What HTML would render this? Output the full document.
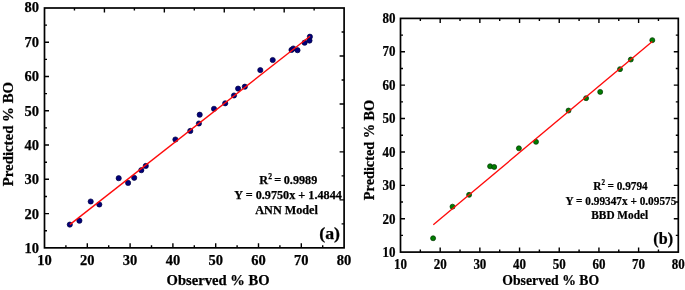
<!DOCTYPE html>
<html><head><meta charset="utf-8"><title>Predicted vs Observed % BO</title>
<style>
html,body{margin:0;padding:0;background:#fff;}
body{width:685px;height:290px;overflow:hidden;}
svg{display:block;will-change:transform;font-family:"Liberation Serif",serif;font-weight:bold;fill:#000;}
svg text{stroke:#000;stroke-width:0.25;}
</style></head><body>
<svg width="685" height="290" viewBox="0 0 685 290">
<rect width="685" height="290" fill="#fff"/>
<g style="mix-blend-mode:multiply">
<rect x="44.5" y="8.0" width="299.6" height="239.85" fill="none" stroke="#000" stroke-width="1.7"/>
<path d="M65.90 247.85v-2.5 M87.30 247.85v-4.5 M108.70 247.85v-2.5 M130.10 247.85v-4.5 M151.50 247.85v-2.5 M172.90 247.85v-4.5 M194.30 247.85v-2.5 M215.70 247.85v-4.5 M237.10 247.85v-2.5 M258.50 247.85v-4.5 M279.90 247.85v-2.5 M301.30 247.85v-4.5 M322.70 247.85v-2.5 M44.5 230.72h2.5 M44.5 213.59h4.5 M44.5 196.45h2.5 M44.5 179.32h4.5 M44.5 162.19h2.5 M44.5 145.06h4.5 M44.5 127.92h2.5 M44.5 110.79h4.5 M44.5 93.66h2.5 M44.5 76.53h4.5 M44.5 59.40h2.5 M44.5 42.26h4.5 M44.5 25.13h2.5 M74.46 8.0v2.5 M104.42 8.0v4.5 M134.38 8.0v2.5 M164.34 8.0v4.5 M194.30 8.0v2.5 M224.26 8.0v4.5 M254.22 8.0v2.5 M284.18 8.0v4.5 M314.14 8.0v2.5 M344.1 223.87h-2.5 M344.1 199.88h-4.5 M344.1 175.89h-2.5 M344.1 151.91h-4.5 M344.1 127.92h-2.5 M344.1 103.94h-4.5 M344.1 79.95h-2.5 M344.1 55.97h-4.5 M344.1 31.98h-2.5" stroke="#000" stroke-width="1.4" fill="none"/>
<text x="44.50" y="265.35" text-anchor="middle" font-size="14.5">10</text>
<text x="39.10" y="253.20" text-anchor="end" font-size="14.5">10</text>
<text x="87.30" y="265.35" text-anchor="middle" font-size="14.5">20</text>
<text x="39.10" y="218.81" text-anchor="end" font-size="14.5">20</text>
<text x="130.10" y="265.35" text-anchor="middle" font-size="14.5">30</text>
<text x="39.10" y="184.41" text-anchor="end" font-size="14.5">30</text>
<text x="172.90" y="265.35" text-anchor="middle" font-size="14.5">40</text>
<text x="39.10" y="150.02" text-anchor="end" font-size="14.5">40</text>
<text x="215.70" y="265.35" text-anchor="middle" font-size="14.5">50</text>
<text x="39.10" y="115.63" text-anchor="end" font-size="14.5">50</text>
<text x="258.50" y="265.35" text-anchor="middle" font-size="14.5">60</text>
<text x="39.10" y="81.24" text-anchor="end" font-size="14.5">60</text>
<text x="301.30" y="265.35" text-anchor="middle" font-size="14.5">70</text>
<text x="39.10" y="46.84" text-anchor="end" font-size="14.5">70</text>
<text x="344.10" y="265.35" text-anchor="middle" font-size="14.5">80</text>
<text x="39.10" y="12.45" text-anchor="end" font-size="14.5">80</text>
<circle cx="69.8" cy="224.6" r="2.6" fill="#00007a" stroke="#000040" stroke-width="0.7"/>
<circle cx="79.4" cy="220.7" r="2.6" fill="#00007a" stroke="#000040" stroke-width="0.7"/>
<circle cx="90.7" cy="201.5" r="2.6" fill="#00007a" stroke="#000040" stroke-width="0.7"/>
<circle cx="99.3" cy="204.5" r="2.6" fill="#00007a" stroke="#000040" stroke-width="0.7"/>
<circle cx="118.7" cy="178.2" r="2.6" fill="#00007a" stroke="#000040" stroke-width="0.7"/>
<circle cx="128.1" cy="182.9" r="2.6" fill="#00007a" stroke="#000040" stroke-width="0.7"/>
<circle cx="134.2" cy="177.8" r="2.6" fill="#00007a" stroke="#000040" stroke-width="0.7"/>
<circle cx="141.3" cy="170.2" r="2.6" fill="#00007a" stroke="#000040" stroke-width="0.7"/>
<circle cx="145.8" cy="165.9" r="2.6" fill="#00007a" stroke="#000040" stroke-width="0.7"/>
<circle cx="175.4" cy="139.5" r="2.6" fill="#00007a" stroke="#000040" stroke-width="0.7"/>
<circle cx="190.3" cy="130.9" r="2.6" fill="#00007a" stroke="#000040" stroke-width="0.7"/>
<circle cx="198.9" cy="123.5" r="2.6" fill="#00007a" stroke="#000040" stroke-width="0.7"/>
<circle cx="199.7" cy="114.7" r="2.6" fill="#00007a" stroke="#000040" stroke-width="0.7"/>
<circle cx="214" cy="108.8" r="2.6" fill="#00007a" stroke="#000040" stroke-width="0.7"/>
<circle cx="225.2" cy="103.3" r="2.6" fill="#00007a" stroke="#000040" stroke-width="0.7"/>
<circle cx="234" cy="95.5" r="2.6" fill="#00007a" stroke="#000040" stroke-width="0.7"/>
<circle cx="238.1" cy="88.6" r="2.6" fill="#00007a" stroke="#000040" stroke-width="0.7"/>
<circle cx="244.8" cy="86.7" r="2.6" fill="#00007a" stroke="#000040" stroke-width="0.7"/>
<circle cx="260.3" cy="70.1" r="2.6" fill="#00007a" stroke="#000040" stroke-width="0.7"/>
<circle cx="272.7" cy="60" r="2.6" fill="#00007a" stroke="#000040" stroke-width="0.7"/>
<circle cx="291.5" cy="49.9" r="2.6" fill="#00007a" stroke="#000040" stroke-width="0.7"/>
<circle cx="293.3" cy="48.5" r="2.6" fill="#00007a" stroke="#000040" stroke-width="0.7"/>
<circle cx="297.5" cy="50.2" r="2.6" fill="#00007a" stroke="#000040" stroke-width="0.7"/>
<circle cx="304.6" cy="42.7" r="2.6" fill="#00007a" stroke="#000040" stroke-width="0.7"/>
<circle cx="309.5" cy="40.6" r="2.6" fill="#00007a" stroke="#000040" stroke-width="0.7"/>
<circle cx="309.9" cy="36.7" r="2.6" fill="#00007a" stroke="#000040" stroke-width="0.7"/>
<line x1="69.8" y1="224.6" x2="310" y2="36.2" stroke="#ff0a0a" stroke-width="1.35"/>
<text x="218.10" y="284.50" text-anchor="middle" font-size="14.6">Observed % BO</text>
<text transform="translate(12.5 134.1) rotate(-90) scale(1 1)" text-anchor="middle" font-size="14.85">Predicted % BO</text>
<text x="288.3" y="184.0" text-anchor="middle" font-size="12.2" fill="#000">R<tspan font-size="7.6" dy="-5.4">2</tspan><tspan dy="5.4" word-spacing="-0.6"> = 0.9989</tspan></text>
<text x="288.1" y="198.8" text-anchor="middle" font-size="12.2" fill="#000">Y = 0.9750x + 1.4844</text>
<text x="286.6" y="214.1" text-anchor="middle" font-size="12.2" fill="#000">ANN Model</text>
<text x="329.6" y="239.2" text-anchor="middle" font-size="16.3" fill="#000"><tspan textLength="20.8" lengthAdjust="spacingAndGlyphs">(a)</tspan></text>
</g>
<g style="mix-blend-mode:multiply">
<rect x="400.5" y="18.4" width="277.79999999999995" height="233.7" fill="none" stroke="#000" stroke-width="1.7"/>
<path d="M420.34 252.1v-2.5 M440.19 252.1v-4.5 M460.03 252.1v-2.5 M479.87 252.1v-4.5 M499.71 252.1v-2.5 M519.56 252.1v-4.5 M539.40 252.1v-2.5 M559.24 252.1v-4.5 M579.09 252.1v-2.5 M598.93 252.1v-4.5 M618.77 252.1v-2.5 M638.61 252.1v-4.5 M658.46 252.1v-2.5 M400.5 235.41h2.5 M400.5 218.71h4.5 M400.5 202.02h2.5 M400.5 185.33h4.5 M400.5 168.64h2.5 M400.5 151.94h4.5 M400.5 135.25h2.5 M400.5 118.56h4.5 M400.5 101.86h2.5 M400.5 85.17h4.5 M400.5 68.48h2.5 M400.5 51.79h4.5 M400.5 35.09h2.5 M420.34 18.4v2.5 M440.19 18.4v4.5 M460.03 18.4v2.5 M479.87 18.4v4.5 M499.71 18.4v2.5 M519.56 18.4v4.5 M539.40 18.4v2.5 M559.24 18.4v4.5 M579.09 18.4v2.5 M598.93 18.4v4.5 M618.77 18.4v2.5 M638.61 18.4v4.5 M658.46 18.4v2.5 M678.3 235.41h-2.5 M678.3 218.71h-4.5 M678.3 202.02h-2.5 M678.3 185.33h-4.5 M678.3 168.64h-2.5 M678.3 151.94h-4.5 M678.3 135.25h-2.5 M678.3 118.56h-4.5 M678.3 101.86h-2.5 M678.3 85.17h-4.5 M678.3 68.48h-2.5 M678.3 51.79h-4.5 M678.3 35.09h-2.5" stroke="#000" stroke-width="1.4" fill="none"/>
<text transform="translate(400.50 268.70)  scale(0.915 1)" text-anchor="middle" font-size="14.2">10</text>
<text transform="translate(395.60 257.15)  scale(0.915 1)" text-anchor="end" font-size="14.2">10</text>
<text transform="translate(440.19 268.70)  scale(0.915 1)" text-anchor="middle" font-size="14.2">20</text>
<text transform="translate(395.60 223.64)  scale(0.915 1)" text-anchor="end" font-size="14.2">20</text>
<text transform="translate(479.87 268.70)  scale(0.915 1)" text-anchor="middle" font-size="14.2">30</text>
<text transform="translate(395.60 190.12)  scale(0.915 1)" text-anchor="end" font-size="14.2">30</text>
<text transform="translate(519.56 268.70)  scale(0.915 1)" text-anchor="middle" font-size="14.2">40</text>
<text transform="translate(395.60 156.61)  scale(0.915 1)" text-anchor="end" font-size="14.2">40</text>
<text transform="translate(559.24 268.70)  scale(0.915 1)" text-anchor="middle" font-size="14.2">50</text>
<text transform="translate(395.60 123.09)  scale(0.915 1)" text-anchor="end" font-size="14.2">50</text>
<text transform="translate(598.93 268.70)  scale(0.915 1)" text-anchor="middle" font-size="14.2">60</text>
<text transform="translate(395.60 89.58)  scale(0.915 1)" text-anchor="end" font-size="14.2">60</text>
<text transform="translate(638.61 268.70)  scale(0.915 1)" text-anchor="middle" font-size="14.2">70</text>
<text transform="translate(395.60 56.06)  scale(0.915 1)" text-anchor="end" font-size="14.2">70</text>
<text transform="translate(678.30 268.70)  scale(0.915 1)" text-anchor="middle" font-size="14.2">80</text>
<text transform="translate(395.60 22.55)  scale(0.915 1)" text-anchor="end" font-size="14.2">80</text>
<circle cx="433.1" cy="238.25" r="2.5" fill="#007d00" stroke="#003400" stroke-width="0.7"/>
<circle cx="452.5" cy="206.65" r="2.5" fill="#007d00" stroke="#003400" stroke-width="0.7"/>
<circle cx="469.1" cy="194.85" r="2.5" fill="#007d00" stroke="#003400" stroke-width="0.7"/>
<circle cx="490.1" cy="166.25" r="2.5" fill="#007d00" stroke="#003400" stroke-width="0.7"/>
<circle cx="494.2" cy="166.95" r="2.5" fill="#007d00" stroke="#003400" stroke-width="0.7"/>
<circle cx="518.9" cy="148.3" r="2.5" fill="#007d00" stroke="#003400" stroke-width="0.7"/>
<circle cx="536" cy="141.85" r="2.5" fill="#007d00" stroke="#003400" stroke-width="0.7"/>
<circle cx="568.5" cy="110.55" r="2.5" fill="#007d00" stroke="#003400" stroke-width="0.7"/>
<circle cx="586.1" cy="98.2" r="2.5" fill="#007d00" stroke="#003400" stroke-width="0.7"/>
<circle cx="600.2" cy="91.9" r="2.5" fill="#007d00" stroke="#003400" stroke-width="0.7"/>
<circle cx="620" cy="69.15" r="2.5" fill="#007d00" stroke="#003400" stroke-width="0.7"/>
<circle cx="630.8" cy="59.55" r="2.5" fill="#007d00" stroke="#003400" stroke-width="0.7"/>
<circle cx="652.3" cy="40.15" r="2.5" fill="#007d00" stroke="#003400" stroke-width="0.7"/>
<line x1="433.3" y1="224.7" x2="652.3" y2="41.5" stroke="#ff0a0a" stroke-width="1.35"/>
<text transform="translate(550.70 284.80)  scale(0.94 1)" text-anchor="middle" font-size="14.6">Observed % BO</text>
<text transform="translate(373.9 150.0) rotate(-90) scale(0.977 0.94)" text-anchor="middle" font-size="14.6">Predicted % BO</text>
<text transform="translate(620.5 190.1) scale(0.925 1)" text-anchor="middle" font-size="12.2" fill="#000">R<tspan font-size="7.6" dy="-5.4">2</tspan><tspan dy="5.4" word-spacing="-0.15"> = 0.9794</tspan></text>
<text transform="translate(620.9 204.5) scale(0.925 1)" text-anchor="middle" font-size="12.2" fill="#000">Y = 0.99347x + 0.09575</text>
<text transform="translate(619.7 219.4) scale(0.925 1)" text-anchor="middle" font-size="12.2" fill="#000">BBD Model</text>
<text transform="translate(663.2 244.4) scale(0.925 1)" text-anchor="middle" font-size="16.2" fill="#000"><tspan textLength="21.3" lengthAdjust="spacingAndGlyphs">(b)</tspan></text>
</g>
</svg>
</body></html>
